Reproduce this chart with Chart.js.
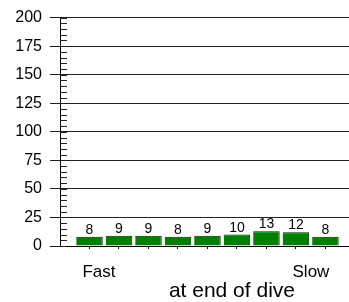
<!DOCTYPE html>
<html>
<head>
<meta charset="utf-8">
<script src="https://cdn.jsdelivr.net/npm/chart.js@4/dist/chart.umd.min.js"></script>
<style>
html,body{margin:0;padding:0;background:#fff;}
#wrap{width:349px;height:302px;position:relative;}
</style>
</head>
<body>
<div id="wrap"><canvas id="c" width="349" height="302"></canvas></div>
<script>
const binPositions = [1, 2, 3, 4, 5, 6, 7, 8, 9];
const countValues = [8, 9, 9, 8, 9, 10, 13, 12, 8];
const endLabels = ['Fast', 'Slow'];
const endLabelPositions = [1.32, 8.51];
const axisTitle = 'at end of dive';
const axisTitlePosition = 5.83;
const yMin = 0, yMax = 200, yStep = 25, yMinorStep = 5;

const FONT = '"Liberation Sans", Arial, Helvetica, sans-serif';

const extras = {
  id: 'extras',
  afterDatasetsDraw(chart) {
    const ctx = chart.ctx;
    const ys = chart.scales.y, xs = chart.scales.x;
    const area = chart.chartArea;
    ctx.save();
    ctx.strokeStyle = '#222';
    ctx.lineWidth = 1;
    ctx.beginPath();
    for (let v = yMin; v <= yMax; v += yMinorStep) {
      const py = Math.round(ys.getPixelForValue(v)) + 0.5;
      ctx.moveTo(area.left, py);
      ctx.lineTo(area.left + 7, py);
    }
    ctx.stroke();
    ctx.fillStyle = '#000';
    ctx.font = '14px ' + FONT;
    ctx.textAlign = 'center';
    ctx.textBaseline = 'alphabetic';
    const meta = chart.getDatasetMeta(0);
    meta.data.forEach((el, i) => {
      ctx.fillText(String(countValues[i]), el.x, el.y - 3);
    });
    ctx.font = '17px ' + FONT;
    endLabels.forEach((t, i) => {
      ctx.fillText(t, xs.getPixelForValue(endLabelPositions[i]), area.bottom + 31);
    });
    ctx.font = '21px ' + FONT;
    ctx.fillText(axisTitle, xs.getPixelForValue(axisTitlePosition), area.bottom + 51);
    ctx.restore();
  }
};

new Chart(document.getElementById('c'), {
  type: 'bar',
  data: {
    datasets: [{
      data: binPositions.map((x, i) => ({ x: x, y: countValues[i] })),
      backgroundColor: '#008000',
      borderColor: '#0a1a0a',
      borderWidth: { top: 1, right: 1, left: 0, bottom: 0 },
      borderSkipped: 'bottom',
      barPercentage: 0.9,
      categoryPercentage: 1.0
    }]
  },
  options: {
    responsive: false,
    animation: false,
    devicePixelRatio: 1,
    layout: { padding: { top: 8, right: 0, bottom: 53, left: 0 } },
    plugins: { legend: { display: false }, tooltip: { enabled: false } },
    scales: {
      x: {
        type: 'linear',
        offset: false,
        min: 0,
        max: 9.8,
        afterBuildTicks: (s) => { s.ticks = binPositions.map(v => ({ value: v })); },
        ticks: { display: false },
        grid: { offset: false, drawOnChartArea: false, drawTicks: true, tickLength: 3, color: '#000' },
        border: { display: true, color: '#000' }
      },
      y: {
        min: yMin,
        max: yMax,
        afterFit: (s) => { s.width = 60; },
        ticks: { stepSize: yStep, color: '#000', font: { family: FONT, size: 16 }, padding: 8 },
        grid: { color: '#222', lineWidth: 1, tickLength: 10 },
        border: { color: '#000' }
      }
    }
  },
  plugins: [extras]
});
</script>
</body>
</html>
